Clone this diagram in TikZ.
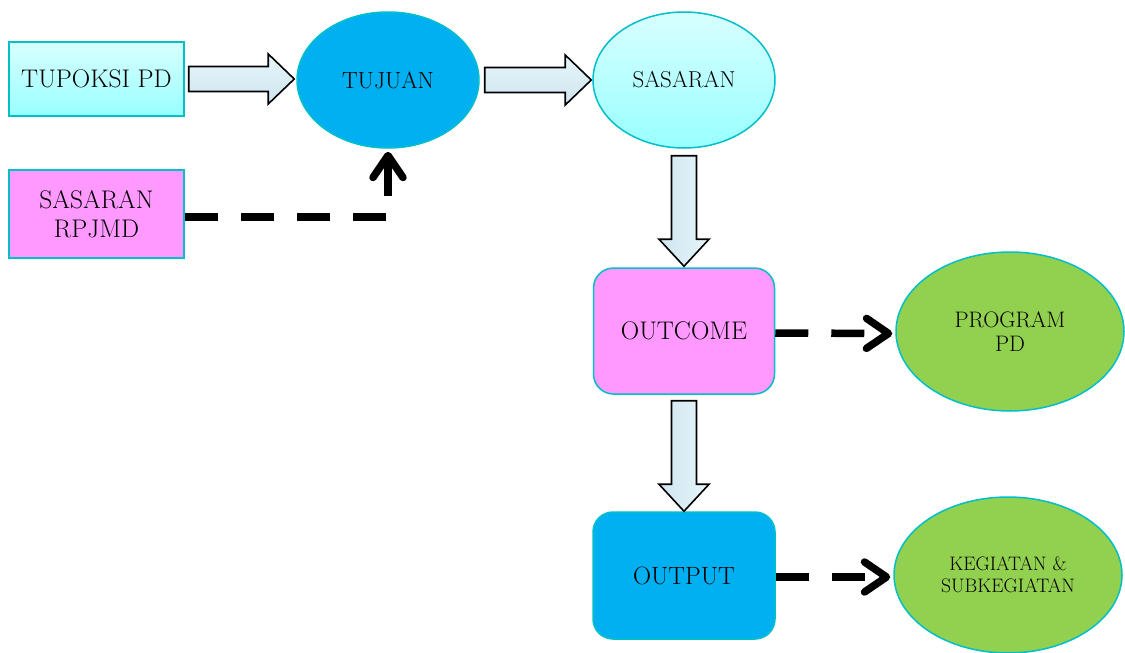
\documentclass[tikz,border=0pt]{standalone}
\usepackage{fontspec}
\usetikzlibrary{shapes.geometric,arrows.meta,calc}
\definecolor{bord}{HTML}{00BFC8}
\definecolor{lcyanT}{HTML}{D8FFFF}
\definecolor{lcyanB}{HTML}{99FFFF}
\definecolor{pinkf}{HTML}{FF99FF}
\definecolor{bluef}{HTML}{00B0F0}
\definecolor{greenf}{HTML}{92D050}
\definecolor{arrA}{HTML}{E6F6FB}
\definecolor{arrB}{HTML}{CFE5EF}
\tikzset{
  base/.style={draw=bord, line width=1.5pt, align=center, inner sep=0pt},
  boxcyan/.style={base, rectangle, top color=lcyanT, bottom color=lcyanB},
  boxpink/.style={base, rectangle, fill=pinkf},
  rboxpink/.style={base, rectangle, rounded corners=20pt, fill=pinkf},
  rboxblue/.style={base, rectangle, rounded corners=20pt, fill=bluef},
  elblue/.style={base, ellipse, fill=bluef},
  elcyan/.style={base, ellipse, top color=lcyanT, bottom color=lcyanB},
  elgreen/.style={base, ellipse, fill=greenf},
  blkh/.style={draw=black, line width=1.6pt, line join=miter, top color=arrA, bottom color=arrB},
  blkv/.style={draw=black, line width=1.6pt, line join=miter, left color=arrB, right color=arrA},
  dasharr/.style={line width=7.5pt, dash pattern=on 33pt off 23pt,
    -{Straight Barb[length=22pt,width=30pt,round]}, shorten >=3pt},
}
\begin{document}
\begin{tikzpicture}[x=1pt,y=-1pt]
\useasboundingbox (0,0) rectangle (1125,653);
% nodes
\node[boxcyan, minimum width=175pt, minimum height=74pt, font=\fontsize{25.5}{29}\selectfont] (tup) at (96.5,79) {TUPOKSI PD};
\node[boxpink, minimum width=175pt, minimum height=88pt, font=\fontsize{25.5}{29}\selectfont] (rpj) at (96.5,214) {SASARAN\\RPJMD};
\node[elblue, minimum width=182pt, minimum height=136pt, font=\fontsize{23.5}{27}\selectfont] (tuj) at (388,80) {TUJUAN};
\node[elcyan, minimum width=182pt, minimum height=136pt, font=\fontsize{23}{27}\selectfont] (sas) at (684,80) {SASARAN};
\node[rboxpink, minimum width=181pt, minimum height=126pt, font=\fontsize{25.5}{29}\selectfont] (outc) at (684,331) {OUTCOME};
\node[rboxblue, minimum width=182pt, minimum height=127pt, font=\fontsize{25}{29}\selectfont] (outp) at (684,575.5) {OUTPUT};
\node[elgreen, minimum width=228pt, minimum height=159pt, font=\fontsize{22.4}{24}\selectfont] (prog) at (1010,331.5) {PROGRAM\\PD};
\node[elgreen, minimum width=228pt, minimum height=156pt, font=\fontsize{19.5}{22}\selectfont] (keg) at (1008,575) {KEGIATAN \&\\SUBKEGIATAN};
% block arrows horizontal
\draw[blkh] let \p1=($(tup.east)+(4,0)$), \p2=($(tuj.west)+(-2,0)$) in
  (\x1,{\y1+12.5pt}) -- ({\x2-26pt},{\y1+12.5pt}) -- ({\x2-26pt},{\y1+25pt}) -- (\x2,\y1)
  -- ({\x2-26pt},{\y1-25pt}) -- ({\x2-26pt},{\y1-12.5pt}) -- (\x1,{\y1-12.5pt}) -- cycle;
\draw[blkh] let \p1=($(tuj.east)+(5,0)$), \p2=($(sas.west)+(-1,0)$) in
  (\x1,{\y1+12.5pt}) -- ({\x2-26pt},{\y1+12.5pt}) -- ({\x2-26pt},{\y1+25pt}) -- (\x2,\y1)
  -- ({\x2-26pt},{\y1-25pt}) -- ({\x2-26pt},{\y1-12.5pt}) -- (\x1,{\y1-12.5pt}) -- cycle;
% block arrows vertical
\draw[blkv] let \p1=($(sas.south)+(0,7)$), \p2=($(outc.north)+(0,-1)$) in
  ({\x1-12.5pt},\y1) -- ({\x1-12.5pt},{\y2+27pt}) -- ({\x1-25pt},{\y2+27pt}) -- (\x1,\y2)
  -- ({\x1+25pt},{\y2+27pt}) -- ({\x1+12.5pt},{\y2+27pt}) -- ({\x1+12.5pt},\y1) -- cycle;
\draw[blkv] let \p1=($(outc.south)+(0,6)$), \p2=($(outp.north)+(0,0)$) in
  ({\x1-12.5pt},\y1) -- ({\x1-12.5pt},{\y2+27pt}) -- ({\x1-25pt},{\y2+27pt}) -- (\x1,\y2)
  -- ({\x1+25pt},{\y2+27pt}) -- ({\x1+12.5pt},{\y2+27pt}) -- ({\x1+12.5pt},\y1) -- cycle;
% dashed arrows
\draw[dasharr, dash pattern=on 33pt off 23pt on 33pt off 23pt on 33pt off 23pt on 33pt off 23pt on 80pt off 20pt]
  ($(rpj.east)+(0,3)$) -| (tuj.south);
\draw[dasharr] ($(outc.east)+(0,2)$) -- ($(prog.west)+(0,2)$);
\draw[dasharr] ($(outp.east)+(0,1.5)$) -- ($(keg.west)+(0,2)$);
\end{tikzpicture}
\end{document}
